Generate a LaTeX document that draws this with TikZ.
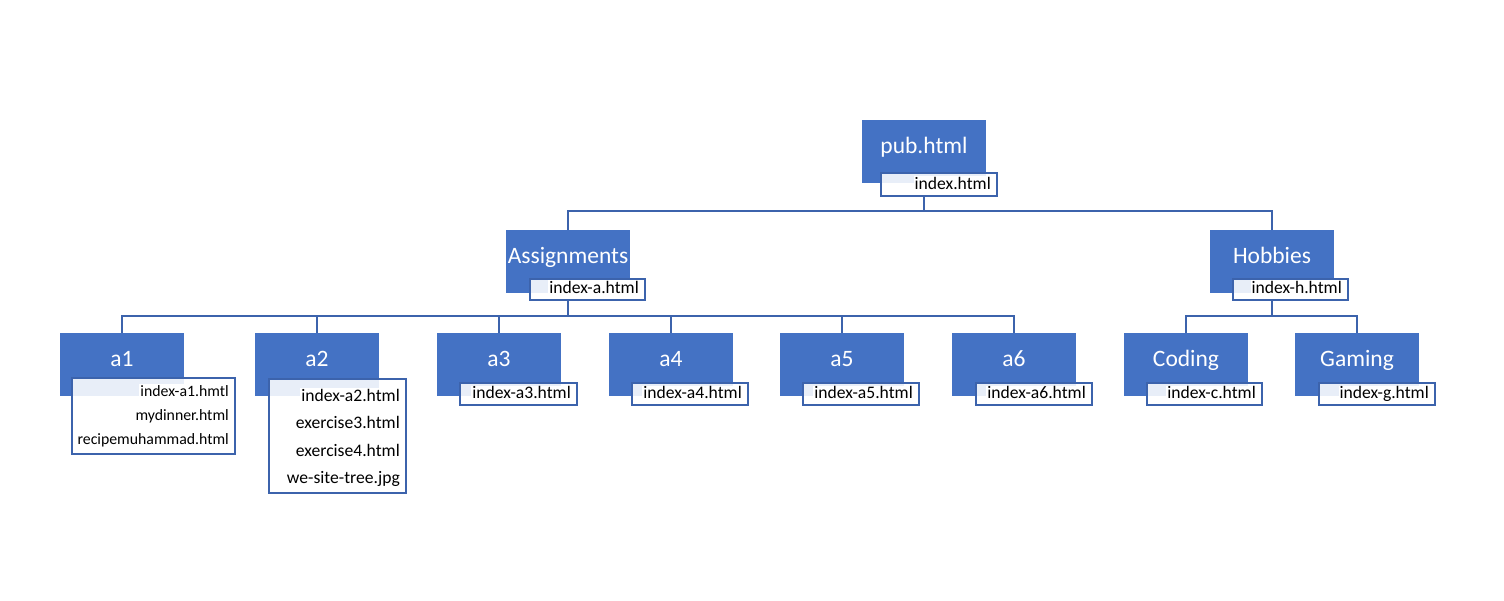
\documentclass[tikz,border=0pt]{standalone}
\usepackage{fontspec}
\setmainfont{Carlito}
\definecolor{boxblue}{HTML}{4472C4}
\definecolor{lineblue}{HTML}{3C63AC}
\definecolor{paleblue}{HTML}{E8EEF8}
\begin{document}
\begin{tikzpicture}[x=1pt,y=-1pt,
  mainbox/.style={fill=boxblue, draw=none, minimum width=124pt, minimum height=63pt, anchor=north west, inner sep=0pt, outer sep=0pt},
  subbox/.style={fill=white, draw=lineblue, line width=1.6pt, anchor=north west, inner sep=0pt, outer sep=0pt},
  maintext/.style={text=white, font=\fontsize{23.5}{28}\selectfont, anchor=base, inner sep=0pt},
  subtext/.style={font=\fontsize{17.6}{21}\selectfont, anchor=base east, fill=white, inner xsep=1pt, inner ysep=0pt, text height=13.5pt, text depth=4.5pt},
  smalltext/.style={subtext, font=\fontsize{15.8}{19}\selectfont, text height=12.5pt, text depth=4pt},
  link/.style={draw=lineblue, line width=1.6pt},
  palefill/.style={fill=paleblue}
]
\useasboundingbox[fill=white] (0,0) rectangle (1504,601);

\newcommand\mainnode[4]{% name, left, top, title
  \node[mainbox] (#1) at (#2,#3) {};
  \node[maintext] (#1t) at ([yshift=-33.5pt]#1.north) {#4};
}
\newcommand\subnode[5]{% parent, left, top, width, height
  \node[subbox, minimum width=#4pt, minimum height=#5pt] (#1s) at (#2,#3) {};
  \fill[palefill] ([shift={(0.8pt,-0.8pt)}]#1s.north west) rectangle (#1.south east);
}

\mainnode{pub}{862}{120}{pub.html}
\mainnode{asg}{506}{230}{Assignments}
\mainnode{hob}{1210}{230}{Hobbies}
\mainnode{a1}{60}{333}{a1}
\mainnode{a2}{255}{333}{a2}
\mainnode{a3}{437}{333}{a3}
\mainnode{a4}{609}{333}{a4}
\mainnode{a5}{780}{333}{a5}
\mainnode{a6}{952}{333}{a6}
\mainnode{cod}{1124}{333}{Coding}
\mainnode{gam}{1295}{333}{Gaming}

\draw[link] (pub.south) -- ++(0,28) coordinate (j0);
\draw[link] (asg.north) |- (j0) -| (hob.north);
\draw[link] (asg.south) -- ++(0,23) coordinate (j1);
\draw[link] (a1.north) |- (j1) -| (a6.north);
\draw[link] (a2.north) -- (a2.north |- j1);
\draw[link] (a3.north) -- (a3.north |- j1);
\draw[link] (a4.north) -- (a4.north |- j1);
\draw[link] (a5.north) -- (a5.north |- j1);
\draw[link] (hob.south) -- ++(0,23) coordinate (j2);
\draw[link] (cod.north) |- (j2) -| (gam.north);

\subnode{pub}{881}{173}{116}{23}
\node[subtext] (publ1) at ([xshift=-5pt]pubs.east |- 0,190) {index.html};

\subnode{asg}{530}{279}{115}{21}
\node[subtext] (asgl1) at ([xshift=-5pt]asgs.east |- 0,294) {index-a.html};

\subnode{hob}{1233}{279}{115}{21}
\node[subtext] (hobl1) at ([xshift=-5pt]hobs.east |- 0,294) {index-h.html};

\subnode{a1}{72}{378}{163}{76}
\node[smalltext] (a1l1) at ([xshift=-5pt]a1s.east |- 0,396) {index-a1.hmtl};
\node[smalltext] (a1l2) at ([xshift=-5pt]a1s.east |- 0,420) {mydinner.html};
\node[smalltext] (a1l3) at ([xshift=-5pt]a1s.east |- 0,444) {recipemuhammad.html};

\subnode{a2}{269}{379}{137}{114}
\node[subtext] (a2l1) at ([xshift=-5pt]a2s.east |- 0,401) {index-a2.html};
\node[subtext] (a2l2) at ([xshift=-5pt]a2s.east |- 0,428) {exercise3.html};
\node[subtext] (a2l3) at ([xshift=-5pt]a2s.east |- 0,456) {exercise4.html};
\node[subtext] (a2l4) at ([xshift=-5pt]a2s.east |- 0,483) {we-site-tree.jpg};

\subnode{a3}{460}{383}{117}{22}
\node[subtext] (a3l1) at ([xshift=-5pt]a3s.east |- 0,399) {index-a3.html};
\subnode{a4}{632}{383}{116}{22}
\node[subtext] (a4l1) at ([xshift=-5pt]a4s.east |- 0,399) {index-a4.html};
\subnode{a5}{803}{383}{116}{22}
\node[subtext] (a5l1) at ([xshift=-5pt]a5s.east |- 0,399) {index-a5.html};
\subnode{a6}{976}{383}{116}{22}
\node[subtext] (a6l1) at ([xshift=-5pt]a6s.east |- 0,399) {index-a6.html};
\subnode{cod}{1147}{383}{115}{22}
\node[subtext] (codl1) at ([xshift=-5pt]cods.east |- 0,399) {index-c.html};
\subnode{gam}{1319}{383}{116}{22}
\node[subtext] (gaml1) at ([xshift=-5pt]gams.east |- 0,399) {index-g.html};
\end{tikzpicture}
\end{document}
